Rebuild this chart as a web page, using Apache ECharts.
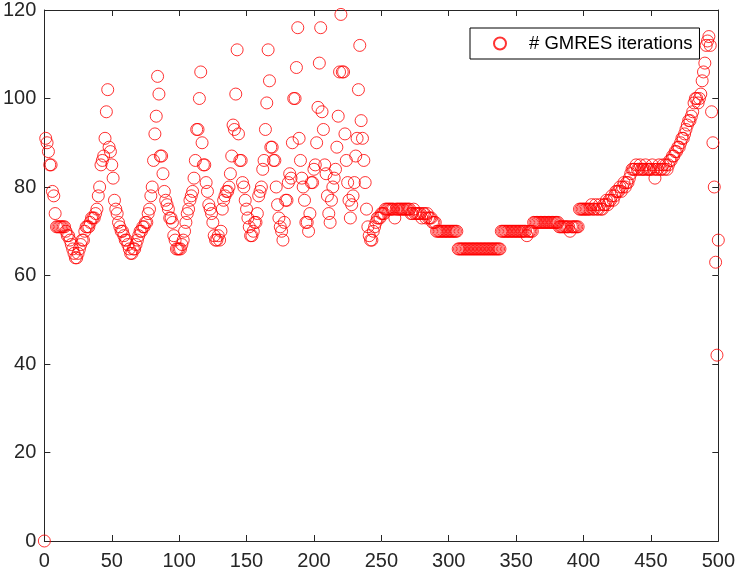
<!DOCTYPE html>
<html>
<head>
<meta charset="utf-8">
<script src="https://cdn.jsdelivr.net/npm/echarts@6/dist/echarts.min.js"></script>
<style>
  html, body { margin: 0; padding: 0; background: #fff; }
  #chart { width: 738px; height: 575px; }
</style>
</head>
<body>
<div id="chart"></div>
<script>
// GMRES iterations per step (step = index)
var itersA = [ // steps 0-100
    0, 91, 90, 88, 85, 85, 79, 78, 74, 71,
    71, 71, 71, 71, 71, 71, 70, 69, 69, 68,
    67, 66, 65, 64, 64, 65, 66, 67, 68, 68,
    70, 71, 71, 71, 72, 73, 73, 73, 74, 75,
    78, 80, 85, 86, 87, 91, 97, 102, 89, 88,
    85, 82, 77, 75, 74, 72, 71, 70, 70, 69,
    68, 68, 67, 66, 65, 65, 66, 66, 67, 68,
    69, 70, 70, 71, 71, 72, 72, 74, 75, 78,
    80, 86, 92, 96, 105, 101, 87, 87, 83, 79,
    77, 76, 75, 73, 73, 72, 69, 68, 66, 66,
    66
];
var itersB = [ // steps 101-200
    66, 67, 68, 70, 72, 74, 75, 77, 78, 79,
    82, 86, 93, 93, 100, 106, 90, 85, 85, 81,
    79, 76, 75, 74, 72, 69, 68, 68, 69, 68,
    70, 75, 77, 78, 79, 79, 80, 83, 87, 94,
    93, 101, 111, 92, 86, 86, 81, 80, 77, 75,
    73, 71, 69, 69, 70, 72, 72, 74, 78, 79,
    80, 84, 86, 93, 99, 111, 104, 89, 89, 86,
    86, 80, 76, 73, 71, 70, 68, 72, 77, 77,
    81, 83, 82, 90, 100, 100, 107, 116, 91, 86,
    82, 80, 77, 72, 72, 70, 74, 81, 81, 84
];
var itersC = [ // steps 201-300
    85, 90, 98, 108, 116, 97, 93, 85, 83, 78,
    74, 72, 77, 80, 82, 84, 89, 96, 106, 119,
    106, 106, 92, 86, 81, 77, 73, 76, 78, 81,
    87, 91, 102, 112, 95, 91, 86, 81, 75, 71,
    69, 68, 68, 70, 71, 72, 73, 73, 73, 74,
    74, 74, 75, 75, 75, 75, 75, 75, 75, 73,
    75, 75, 75, 75, 75, 75, 75, 75, 75, 75,
    75, 74, 74, 75, 74, 74, 74, 74, 74, 73,
    74, 74, 73, 74, 73, 73, 73, 72, 72, 72,
    70, 70, 70, 70, 70, 70, 70, 70, 70, 70
];
var itersD = [ // steps 301-400
    70, 70, 70, 70, 70, 70, 66, 66, 66, 66,
    66, 66, 66, 66, 66, 66, 66, 66, 66, 66,
    66, 66, 66, 66, 66, 66, 66, 66, 66, 66,
    66, 66, 66, 66, 66, 66, 66, 66, 70, 70,
    70, 70, 70, 70, 70, 70, 70, 70, 70, 70,
    70, 70, 70, 70, 70, 70, 70, 69, 70, 70,
    70, 70, 72, 72, 72, 72, 72, 72, 72, 72,
    72, 72, 72, 72, 72, 72, 72, 72, 72, 72,
    72, 71, 71, 71, 71, 71, 71, 71, 71, 70,
    71, 71, 71, 71, 71, 71, 75, 75, 75, 75
];
var itersE = [ // steps 401-500
    75, 75, 75, 75, 75, 76, 75, 75, 76, 75,
    75, 76, 75, 75, 76, 76, 77, 76, 77, 77,
    78, 77, 78, 79, 79, 79, 80, 79, 80, 81,
    80, 81, 81, 82, 83, 84, 84, 84, 85, 84,
    84, 85, 84, 84, 84, 85, 84, 84, 84, 84,
    85, 84, 82, 84, 84, 85, 84, 84, 85, 84,
    85, 84, 85, 86, 86, 87, 87, 88, 88, 89,
    89, 90, 91, 91, 92, 93, 94, 95, 95, 96,
    97, 99, 100, 100, 99, 100, 101, 104, 106, 108,
    112, 113, 114, 112, 97, 90, 80, 63, 42, 68
];

var xTicks = { min: 0, max: 500, step: 50 };
var yTicks = { min: 0, max: 120, step: 20 };
var legendName = '# GMRES iterations';

var iterations = itersA.concat(itersB, itersC, itersD, itersE);
var points = [];
for (var i = 0; i < iterations.length; i++) {
    points.push([i, iterations[i]]);
}

var axisColor = '#262626';
var fontName = 'Liberation Sans';

function makeAxis(kind, pos, showLabels) {
    var t = kind === 'x' ? xTicks : yTicks;
    return {
        type: 'value',
        position: pos,
        min: t.min,
        max: t.max,
        interval: t.step,
        axisLine: { show: true, onZero: false, lineStyle: { color: axisColor, width: 1 } },
        axisTick: { show: true, inside: true, length: 6, lineStyle: { color: axisColor } },
        axisLabel: {
            show: showLabels,
            color: axisColor,
            fontFamily: fontName,
            fontSize: 20,
            margin: kind === 'x' ? 10 : 8
        },
        splitLine: { show: false }
    };
}

var chart = echarts.init(document.getElementById('chart'));
chart.setOption({
    animation: false,
    backgroundColor: '#fff',
    grid: { left: 42, right: 18, top: 7, bottom: 34 },
    xAxis: [makeAxis('x', 'bottom', true), makeAxis('x', 'top', false)],
    yAxis: [makeAxis('y', 'left', true), makeAxis('y', 'right', false)],
    legend: {
        data: [legendName],
        left: 470,
        top: 28,
        orient: 'vertical',
        backgroundColor: '#fff',
        borderColor: '#000',
        borderWidth: 1,
        borderRadius: 0,
        padding: [6, 7, 6, 23],
        itemWidth: 12,
        itemHeight: 12,
        itemGap: 5,
        textStyle: { fontFamily: fontName, fontSize: 18.5, color: '#000', padding: [0, 0, 0, 18] }
    },
    series: [{
        name: legendName,
        type: 'scatter',
        xAxisIndex: 0,
        yAxisIndex: 0,
        symbol: 'circle',
        symbolSize: 12,
        clip: false,
        itemStyle: { color: 'rgba(255,0,0,0)', borderColor: '#ff0000', borderWidth: 1 },
        emphasis: { disabled: true },
        data: points
    }]
});
</script>
</body>
</html>
